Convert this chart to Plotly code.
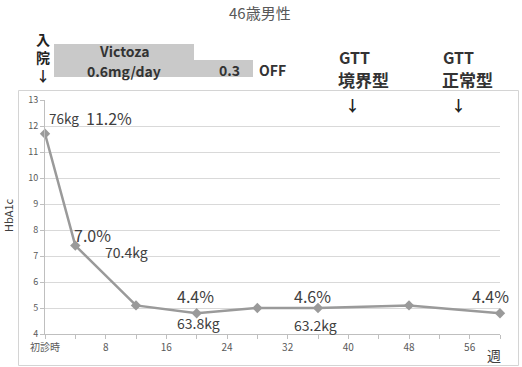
import plotly.graph_objects as go

# Data
weeks = [0, 4, 12, 20, 28, 36, 48, 60]
hba1c = [11.7, 7.4, 5.1, 4.8, 5.0, 5.0, 5.1, 4.8]
tick_vals = [0, 4, 8, 12, 16, 20, 24, 28, 32, 36, 40, 44, 48, 52, 56, 60]
tick_text = ["初診時", "", "8", "", "16", "", "24", "", "32", "", "40", "", "48", "", "56", ""]
y_ticks = [4, 5, 6, 7, 8, 9, 10, 11, 12, 13]

FONT = "Noto Sans CJK JP"
W, H = 522, 367
L, R, T, B = 45, 22, 100, 33
PW, PH = W - L - R, H - T - B


def px(x):
    return (x - L) / PW


def py(y):
    return (H - B - y) / PH


fig = go.Figure()
fig.add_trace(go.Scatter(
    x=weeks, y=hba1c, mode="lines+markers",
    line=dict(color="#9a9a9a", width=2.5),
    marker=dict(symbol="diamond", size=8, color="#9a9a9a"),
    showlegend=False, cliponaxis=False,
))

ann = []


def a(text, x, y, size, xref="paper", yref="paper", xanchor="center", yanchor="middle",
      color="#404040", bold=False, angle=0):
    if bold:
        text = "<b>" + text + "</b>"
    ann.append(dict(text=text, x=x, y=y, xref=xref, yref=yref, xanchor=xanchor,
                    yanchor=yanchor, showarrow=False, textangle=angle,
                    font=dict(family=FONT, size=size, color=color)))


# data-region labels
a("76kg", 0.2, 12.31, 13.5, "x", "y", "left")
a("11.2%", 5.2, 12.31, 16, "x", "y", "left")
a("7.0%", 3.6, 7.81, 16, "x", "y", "left")
a("70.4kg", 7.6, 7.15, 14, "x", "y", "left")
a("4.4%", 17.2, 5.46, 16, "x", "y", "left")
a("63.8kg", 17.2, 4.42, 14, "x", "y", "left")
a("4.6%", 32.6, 5.46, 16, "x", "y", "left")
a("63.2kg", 32.6, 4.35, 14, "x", "y", "left")
a("4.4%", 56.0, 5.46, 16, "x", "y", "left")

# header
a("46歳男性", px(260), py(12), 15, color="#595959")
a("入<br>院<br>↓", px(43), py(57), 14, bold=True, color="#222")
a("Victoza", px(124), py(51), 14, bold=True, color="#333")
a("0.6mg/day", px(124), py(71), 14, bold=True, color="#333")
a("0.3", px(229), py(70), 14, bold=True, color="#333")
a("OFF", px(272), py(70), 14, bold=True, color="#333")
a("GTT", px(337), py(57), 16, xanchor="left", bold=True, color="#333")
a("境界型", px(336), py(79), 17, xanchor="left", bold=True, color="#333")
a("GTT", px(441), py(57), 16, xanchor="left", bold=True, color="#333")
a("正常型", px(440), py(79), 17, xanchor="left", bold=True, color="#333")
a("↓", px(352), py(104), 15, bold=True, color="#222")
a("↓", px(458), py(104), 15, bold=True, color="#222")
a("週", px(494), py(355), 14, color="#404040")
a("HbA1c", px(8), py(215), 11, angle=-90, color="#404040")

shapes = [
    dict(type="rect", xref="paper", yref="paper", x0=px(18.5), x1=px(518.5), y0=py(365.5), y1=py(90.5),
         line=dict(color="#d4d4d4", width=1), fillcolor="rgba(0,0,0,0)", layer="below"),
    dict(type="rect", xref="paper", yref="paper", x0=px(54), x1=px(194), y0=py(77), y1=py(44),
         line=dict(width=0), fillcolor="#c9c9c9", layer="below"),
    dict(type="rect", xref="paper", yref="paper", x0=px(193), x1=px(253), y0=py(77), y1=py(60),
         line=dict(width=0), fillcolor="#c9c9c9", layer="below"),
]

fig.update_layout(
    width=W, height=H,
    margin=dict(l=L, r=R, t=T, b=B, pad=0),
    paper_bgcolor="white", plot_bgcolor="white",
    annotations=ann, shapes=shapes,
    xaxis=dict(range=[0, 60], tickvals=tick_vals, ticktext=tick_text, showgrid=False,
               showline=True, linecolor="#bfbfbf", linewidth=1, ticks="outside", ticklen=4,
               tickcolor="#bfbfbf", zeroline=False,
               tickfont=dict(family=FONT, size=10, color="#595959")),
    yaxis=dict(range=[4, 13], tickvals=y_ticks, showgrid=True, gridcolor="#d9d9d9", gridwidth=1,
               showline=True, linecolor="#bfbfbf", linewidth=1, ticks="outside", ticklen=4,
               tickcolor="#bfbfbf", zeroline=False,
               tickfont=dict(family=FONT, size=9, color="#595959")),
)

fig.write_html("out.html")
